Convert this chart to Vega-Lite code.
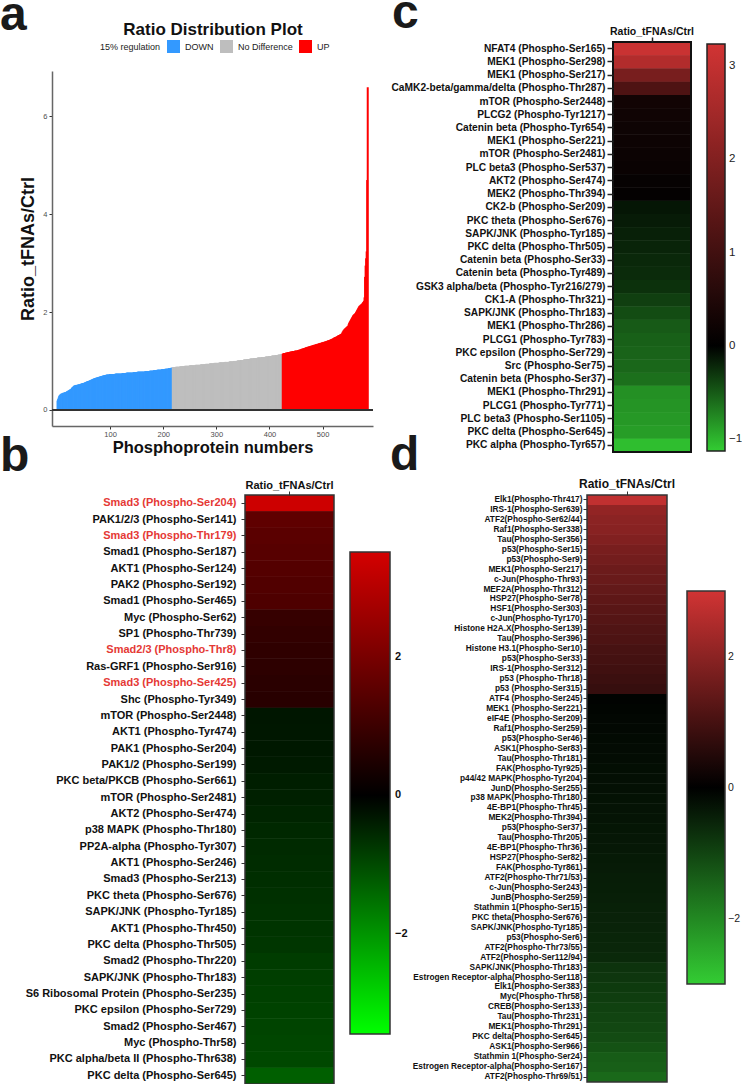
{
"$schema": "https://vega.github.io/schema/vega-lite/v6.json",
"padding": {"left": 0, "top": -10, "right": 0, "bottom": 0},
"background": "white",
"config": {"font": "Liberation Sans", "view": {"stroke": null}, "axis": {"grid": false}},
"resolve": {"scale": {"x": "independent", "y": "independent", "color": "independent"}, "legend": {"color": "independent"}},
"columns": 2,
"spacing": {"row": -24, "column": -18},
"datasets": {
"dist": [
{"g": "DOWN", "r": [0.19,0.22,0.25,0.28,0.30,0.31,0.32,0.33,0.33,0.34,0.34,0.35,0.35,0.35,0.36,0.36,0.36,0.37,0.38,0.38,0.39,0.40,0.40,0.41,0.42,0.42,0.43,0.45,0.46,0.47,0.48,0.49,0.50,0.50,0.50,0.51,0.51,0.51,0.51,0.52,0.52,0.52,0.52,0.53,0.53,0.54,0.54,0.54,0.55,0.55,0.55,0.56,0.56,0.57,0.57,0.58,0.58,0.59,0.59,0.59,0.60,0.60,0.61,0.61,0.62,0.62,0.63,0.63,0.64,0.64,0.65,0.65,0.65,0.66,0.66,0.66,0.67,0.67,0.67,0.68,0.68,0.68,0.69,0.69,0.69,0.70,0.70,0.70,0.71,0.71,0.71,0.71,0.72,0.72,0.72,0.72,0.72,0.72,0.73,0.73,0.73,0.73,0.73,0.73,0.73,0.73,0.73,0.73,0.73,0.74,0.74,0.74,0.74,0.74,0.74,0.74,0.74,0.74,0.74,0.74,0.74,0.74,0.75,0.75,0.75,0.75,0.75,0.75,0.75,0.75,0.76,0.76,0.76,0.76,0.76,0.76,0.76,0.76,0.76,0.76,0.76,0.76,0.76,0.77,0.77,0.77,0.77,0.77,0.77,0.77,0.77,0.78,0.78,0.78,0.78,0.78,0.78,0.78,0.78,0.78,0.78,0.78,0.78,0.78,0.78,0.79,0.79,0.79,0.79,0.79,0.79,0.79,0.79,0.79,0.80,0.80,0.80,0.80,0.80,0.80,0.80,0.81,0.81,0.81,0.81,0.81,0.81,0.81,0.82,0.82,0.82,0.82,0.82,0.82,0.82,0.82,0.83,0.83,0.83,0.83,0.83,0.83,0.83,0.84,0.84,0.84,0.84,0.84,0.84,0.85,0.85,0.85,0.85,0.85,0.86,0.86,0.86]},
{"g": "No Difference", "r": [0.87,0.87,0.87,0.87,0.87,0.87,0.88,0.88,0.88,0.88,0.88,0.88,0.88,0.88,0.89,0.89,0.89,0.89,0.89,0.89,0.89,0.89,0.89,0.90,0.90,0.90,0.90,0.90,0.90,0.90,0.90,0.90,0.91,0.91,0.91,0.91,0.91,0.91,0.91,0.91,0.91,0.91,0.91,0.92,0.92,0.92,0.92,0.92,0.92,0.92,0.92,0.92,0.92,0.93,0.93,0.93,0.93,0.93,0.93,0.93,0.93,0.93,0.94,0.94,0.94,0.94,0.94,0.94,0.94,0.94,0.95,0.95,0.95,0.95,0.95,0.95,0.95,0.95,0.96,0.96,0.96,0.96,0.96,0.96,0.96,0.96,0.96,0.96,0.97,0.97,0.97,0.97,0.97,0.97,0.97,0.97,0.97,0.97,0.98,0.98,0.98,0.98,0.98,0.98,0.98,0.98,0.98,0.99,0.99,0.99,0.99,0.99,0.99,0.99,0.99,1.00,1.00,1.00,1.00,1.00,1.00,1.00,1.01,1.01,1.01,1.01,1.01,1.01,1.02,1.02,1.02,1.02,1.02,1.02,1.03,1.03,1.03,1.03,1.03,1.03,1.04,1.04,1.04,1.04,1.04,1.04,1.05,1.05,1.05,1.05,1.05,1.05,1.05,1.06,1.06,1.06,1.06,1.06,1.06,1.06,1.07,1.07,1.07,1.07,1.07,1.07,1.07,1.07,1.08,1.08,1.08,1.08,1.08,1.08,1.08,1.09,1.09,1.09,1.09,1.09,1.09,1.10,1.10,1.10,1.10,1.10,1.10,1.11,1.11,1.11,1.11,1.11,1.11,1.12,1.12,1.12,1.12,1.12,1.12,1.13,1.13,1.13,1.13,1.13,1.14,1.14,1.14]},
{"g": "UP", "r": [1.15,1.15,1.16,1.16,1.16,1.16,1.17,1.17,1.17,1.17,1.18,1.18,1.18,1.18,1.19,1.19,1.19,1.19,1.20,1.20,1.20,1.20,1.20,1.21,1.21,1.21,1.21,1.21,1.22,1.22,1.22,1.23,1.23,1.23,1.24,1.24,1.25,1.25,1.25,1.26,1.26,1.26,1.27,1.27,1.28,1.28,1.28,1.29,1.29,1.29,1.30,1.30,1.30,1.31,1.31,1.31,1.32,1.32,1.32,1.33,1.33,1.33,1.34,1.34,1.34,1.35,1.35,1.35,1.36,1.36,1.36,1.37,1.37,1.37,1.38,1.38,1.38,1.39,1.39,1.39,1.40,1.40,1.40,1.41,1.41,1.42,1.42,1.42,1.43,1.43,1.44,1.44,1.45,1.45,1.46,1.46,1.47,1.48,1.48,1.49,1.49,1.50,1.50,1.51,1.52,1.52,1.53,1.53,1.54,1.55,1.55,1.56,1.58,1.60,1.62,1.63,1.65,1.66,1.67,1.68,1.69,1.70,1.71,1.72,1.75,1.78,1.80,1.82,1.84,1.86,1.88,1.90,1.92,1.94,1.95,1.96,1.97,1.98,2.00,2.02,2.04,2.06,2.08,2.10,2.12,2.13,2.14,2.15,2.16,2.17,2.18,2.20,2.21,2.23,2.30,2.72,2.95,3.10,3.24,4.70,6.60]}
],
"b": [
{"s":"Ratio_tFNAs/Ctrl","p":"Smad3 (Phospho-Ser204)","v":3.4},
{"s":"Ratio_tFNAs/Ctrl","p":"PAK1/2/3 (Phospho-Ser141)","v":1.57},
{"s":"Ratio_tFNAs/Ctrl","p":"Smad3 (Phospho-Thr179)","v":1.5},
{"s":"Ratio_tFNAs/Ctrl","p":"Smad1 (Phospho-Ser187)","v":1.45},
{"s":"Ratio_tFNAs/Ctrl","p":"AKT1 (Phospho-Ser124)","v":1.4},
{"s":"Ratio_tFNAs/Ctrl","p":"PAK2 (Phospho-Ser192)","v":1.35},
{"s":"Ratio_tFNAs/Ctrl","p":"Smad1 (Phospho-Ser465)","v":1.29},
{"s":"Ratio_tFNAs/Ctrl","p":"Myc (Phospho-Ser62)","v":0.9},
{"s":"Ratio_tFNAs/Ctrl","p":"SP1 (Phospho-Thr739)","v":0.83},
{"s":"Ratio_tFNAs/Ctrl","p":"Smad2/3 (Phospho-Thr8)","v":0.78},
{"s":"Ratio_tFNAs/Ctrl","p":"Ras-GRF1 (Phospho-Ser916)","v":0.74},
{"s":"Ratio_tFNAs/Ctrl","p":"Smad3 (Phospho-Ser425)","v":0.69},
{"s":"Ratio_tFNAs/Ctrl","p":"Shc (Phospho-Tyr349)","v":0.66},
{"s":"Ratio_tFNAs/Ctrl","p":"mTOR (Phospho-Ser2448)","v":-0.3},
{"s":"Ratio_tFNAs/Ctrl","p":"AKT1 (Phospho-Tyr474)","v":-0.31},
{"s":"Ratio_tFNAs/Ctrl","p":"PAK1 (Phospho-Ser204)","v":-0.32},
{"s":"Ratio_tFNAs/Ctrl","p":"PAK1/2 (Phospho-Ser199)","v":-0.35},
{"s":"Ratio_tFNAs/Ctrl","p":"PKC beta/PKCB (Phospho-Ser661)","v":-0.4},
{"s":"Ratio_tFNAs/Ctrl","p":"mTOR (Phospho-Ser2481)","v":-0.43},
{"s":"Ratio_tFNAs/Ctrl","p":"AKT2 (Phospho-Ser474)","v":-0.49},
{"s":"Ratio_tFNAs/Ctrl","p":"p38 MAPK (Phospho-Thr180)","v":-0.54},
{"s":"Ratio_tFNAs/Ctrl","p":"PP2A-alpha (Phospho-Tyr307)","v":-0.57},
{"s":"Ratio_tFNAs/Ctrl","p":"AKT1 (Phospho-Ser246)","v":-0.6},
{"s":"Ratio_tFNAs/Ctrl","p":"Smad3 (Phospho-Ser213)","v":-0.62},
{"s":"Ratio_tFNAs/Ctrl","p":"PKC theta (Phospho-Ser676)","v":-0.65},
{"s":"Ratio_tFNAs/Ctrl","p":"SAPK/JNK (Phospho-Tyr185)","v":-0.68},
{"s":"Ratio_tFNAs/Ctrl","p":"AKT1 (Phospho-Thr450)","v":-0.7},
{"s":"Ratio_tFNAs/Ctrl","p":"PKC delta (Phospho-Thr505)","v":-0.73},
{"s":"Ratio_tFNAs/Ctrl","p":"Smad2 (Phospho-Thr220)","v":-0.81},
{"s":"Ratio_tFNAs/Ctrl","p":"SAPK/JNK (Phospho-Thr183)","v":-0.84},
{"s":"Ratio_tFNAs/Ctrl","p":"S6 Ribosomal Protein (Phospho-Ser235)","v":-0.87},
{"s":"Ratio_tFNAs/Ctrl","p":"PKC epsilon (Phospho-Ser729)","v":-0.89},
{"s":"Ratio_tFNAs/Ctrl","p":"Smad2 (Phospho-Ser467)","v":-0.92},
{"s":"Ratio_tFNAs/Ctrl","p":"Myc (Phospho-Thr58)","v":-0.95},
{"s":"Ratio_tFNAs/Ctrl","p":"PKC alpha/beta II (Phospho-Thr638)","v":-0.97},
{"s":"Ratio_tFNAs/Ctrl","p":"PKC delta (Phospho-Ser645)","v":-1.29}
],
"c": [
{"s":"Ratio_tFNAs/Ctrl","p":"NFAT4 (Phospho-Ser165)","v":3.1},
{"s":"Ratio_tFNAs/Ctrl","p":"MEK1 (Phospho-Ser298)","v":2.75},
{"s":"Ratio_tFNAs/Ctrl","p":"MEK1 (Phospho-Ser217)","v":1.85},
{"s":"Ratio_tFNAs/Ctrl","p":"CaMK2-beta/gamma/delta (Phospho-Thr287)","v":1.2},
{"s":"Ratio_tFNAs/Ctrl","p":"mTOR (Phospho-Ser2448)","v":0.28},
{"s":"Ratio_tFNAs/Ctrl","p":"PLCG2 (Phospho-Tyr1217)","v":0.25},
{"s":"Ratio_tFNAs/Ctrl","p":"Catenin beta (Phospho-Tyr654)","v":0.22},
{"s":"Ratio_tFNAs/Ctrl","p":"MEK1 (Phospho-Ser221)","v":0.2},
{"s":"Ratio_tFNAs/Ctrl","p":"mTOR (Phospho-Ser2481)","v":0.18},
{"s":"Ratio_tFNAs/Ctrl","p":"PLC beta3 (Phospho-Ser537)","v":0.15},
{"s":"Ratio_tFNAs/Ctrl","p":"AKT2 (Phospho-Ser474)","v":0.1},
{"s":"Ratio_tFNAs/Ctrl","p":"MEK2 (Phospho-Thr394)","v":0.06},
{"s":"Ratio_tFNAs/Ctrl","p":"CK2-b (Phospho-Ser209)","v":-0.12},
{"s":"Ratio_tFNAs/Ctrl","p":"PKC theta (Phospho-Ser676)","v":-0.15},
{"s":"Ratio_tFNAs/Ctrl","p":"SAPK/JNK (Phospho-Tyr185)","v":-0.18},
{"s":"Ratio_tFNAs/Ctrl","p":"PKC delta (Phospho-Thr505)","v":-0.2},
{"s":"Ratio_tFNAs/Ctrl","p":"Catenin beta (Phospho-Ser33)","v":-0.22},
{"s":"Ratio_tFNAs/Ctrl","p":"Catenin beta (Phospho-Tyr489)","v":-0.24},
{"s":"Ratio_tFNAs/Ctrl","p":"GSK3 alpha/beta (Phospho-Tyr216/279)","v":-0.27},
{"s":"Ratio_tFNAs/Ctrl","p":"CK1-A (Phospho-Thr321)","v":-0.35},
{"s":"Ratio_tFNAs/Ctrl","p":"SAPK/JNK (Phospho-Thr183)","v":-0.42},
{"s":"Ratio_tFNAs/Ctrl","p":"MEK1 (Phospho-Thr286)","v":-0.5},
{"s":"Ratio_tFNAs/Ctrl","p":"PLCG1 (Phospho-Tyr783)","v":-0.53},
{"s":"Ratio_tFNAs/Ctrl","p":"PKC epsilon (Phospho-Ser729)","v":-0.55},
{"s":"Ratio_tFNAs/Ctrl","p":"Src (Phospho-Ser75)","v":-0.57},
{"s":"Ratio_tFNAs/Ctrl","p":"Catenin beta (Phospho-Ser37)","v":-0.62},
{"s":"Ratio_tFNAs/Ctrl","p":"MEK1 (Phospho-Thr291)","v":-0.8},
{"s":"Ratio_tFNAs/Ctrl","p":"PLCG1 (Phospho-Tyr771)","v":-0.82},
{"s":"Ratio_tFNAs/Ctrl","p":"PLC beta3 (Phospho-Ser1105)","v":-0.84},
{"s":"Ratio_tFNAs/Ctrl","p":"PKC delta (Phospho-Ser645)","v":-0.87},
{"s":"Ratio_tFNAs/Ctrl","p":"PKC alpha (Phospho-Tyr657)","v":-1.05}
],
"d": [
{"s":"Ratio_tFNAs/Ctrl","p":"Elk1(Phospho-Thr417)","v":2.75},
{"s":"Ratio_tFNAs/Ctrl","p":"IRS-1(Phospho-Ser639)","v":2.1},
{"s":"Ratio_tFNAs/Ctrl","p":"ATF2(Phospho-Ser62/44)","v":2.0},
{"s":"Ratio_tFNAs/Ctrl","p":"Raf1(Phospho-Ser338)","v":1.95},
{"s":"Ratio_tFNAs/Ctrl","p":"Tau(Phospho-Ser356)","v":1.85},
{"s":"Ratio_tFNAs/Ctrl","p":"p53(Phospho-Ser15)","v":1.72},
{"s":"Ratio_tFNAs/Ctrl","p":"p53(Phospho-Ser9)","v":1.65},
{"s":"Ratio_tFNAs/Ctrl","p":"MEK1(Phospho-Ser217)","v":1.55},
{"s":"Ratio_tFNAs/Ctrl","p":"c-Jun(Phospho-Thr93)","v":1.5},
{"s":"Ratio_tFNAs/Ctrl","p":"MEF2A(Phospho-Thr312)","v":1.42},
{"s":"Ratio_tFNAs/Ctrl","p":"HSP27(Phospho-Ser78)","v":1.35},
{"s":"Ratio_tFNAs/Ctrl","p":"HSF1(Phospho-Ser303)","v":1.28},
{"s":"Ratio_tFNAs/Ctrl","p":"c-Jun(Phospho-Tyr170)","v":1.22},
{"s":"Ratio_tFNAs/Ctrl","p":"Histone H2A.X(Phospho-Ser139)","v":1.15},
{"s":"Ratio_tFNAs/Ctrl","p":"Tau(Phospho-Ser396)","v":1.1},
{"s":"Ratio_tFNAs/Ctrl","p":"Histone H3.1(Phospho-Ser10)","v":1.02},
{"s":"Ratio_tFNAs/Ctrl","p":"p53(Phospho-Ser33)","v":0.97},
{"s":"Ratio_tFNAs/Ctrl","p":"IRS-1(Phospho-Ser312)","v":0.92},
{"s":"Ratio_tFNAs/Ctrl","p":"p53 (Phospho-Thr18)","v":0.85},
{"s":"Ratio_tFNAs/Ctrl","p":"p53 (Phospho-Ser315)","v":0.78},
{"s":"Ratio_tFNAs/Ctrl","p":"ATF4 (Phospho-Ser245)","v":-0.05},
{"s":"Ratio_tFNAs/Ctrl","p":"MEK1 (Phospho-Ser221)","v":-0.08},
{"s":"Ratio_tFNAs/Ctrl","p":"eIF4E (Phospho-Ser209)","v":-0.1},
{"s":"Ratio_tFNAs/Ctrl","p":"Raf1(Phospho-Ser259)","v":-0.12},
{"s":"Ratio_tFNAs/Ctrl","p":"p53(Phospho-Ser46)","v":-0.14},
{"s":"Ratio_tFNAs/Ctrl","p":"ASK1(Phospho-Ser83)","v":-0.16},
{"s":"Ratio_tFNAs/Ctrl","p":"Tau(Phospho-Thr181)","v":-0.18},
{"s":"Ratio_tFNAs/Ctrl","p":"FAK(Phospho-Tyr925)","v":-0.2},
{"s":"Ratio_tFNAs/Ctrl","p":"p44/42 MAPK(Phospho-Tyr204)","v":-0.22},
{"s":"Ratio_tFNAs/Ctrl","p":"JunD(Phospho-Ser255)","v":-0.24},
{"s":"Ratio_tFNAs/Ctrl","p":"p38 MAPK(Phospho-Thr180)","v":-0.26},
{"s":"Ratio_tFNAs/Ctrl","p":"4E-BP1(Phospho-Thr45)","v":-0.28},
{"s":"Ratio_tFNAs/Ctrl","p":"MEK2(Phospho-Thr394)","v":-0.3},
{"s":"Ratio_tFNAs/Ctrl","p":"p53(Phospho-Ser37)","v":-0.32},
{"s":"Ratio_tFNAs/Ctrl","p":"Tau(Phospho-Thr205)","v":-0.34},
{"s":"Ratio_tFNAs/Ctrl","p":"4E-BP1(Phospho-Thr36)","v":-0.36},
{"s":"Ratio_tFNAs/Ctrl","p":"HSP27(Phospho-Ser82)","v":-0.38},
{"s":"Ratio_tFNAs/Ctrl","p":"FAK(Phospho-Tyr861)","v":-0.4},
{"s":"Ratio_tFNAs/Ctrl","p":"ATF2(Phospho-Thr71/53)","v":-0.42},
{"s":"Ratio_tFNAs/Ctrl","p":"c-Jun(Phospho-Ser243)","v":-0.44},
{"s":"Ratio_tFNAs/Ctrl","p":"JunB(Phospho-Ser259)","v":-0.46},
{"s":"Ratio_tFNAs/Ctrl","p":"Stathmin 1(Phospho-Ser15)","v":-0.48},
{"s":"Ratio_tFNAs/Ctrl","p":"PKC theta(Phospho-Ser676)","v":-0.5},
{"s":"Ratio_tFNAs/Ctrl","p":"SAPK/JNK(Phospho-Tyr185)","v":-0.52},
{"s":"Ratio_tFNAs/Ctrl","p":"p53(Phospho-Ser6)","v":-0.54},
{"s":"Ratio_tFNAs/Ctrl","p":"ATF2(Phospho-Thr73/55)","v":-0.56},
{"s":"Ratio_tFNAs/Ctrl","p":"ATF2(Phospho-Ser112/94)","v":-0.6},
{"s":"Ratio_tFNAs/Ctrl","p":"SAPK/JNK(Phospho-Thr183)","v":-0.75},
{"s":"Ratio_tFNAs/Ctrl","p":"Estrogen Receptor-alpha(Phospho-Ser118)","v":-0.8},
{"s":"Ratio_tFNAs/Ctrl","p":"Elk1(Phospho-Ser383)","v":-0.85},
{"s":"Ratio_tFNAs/Ctrl","p":"Myc(Phospho-Thr58)","v":-0.9},
{"s":"Ratio_tFNAs/Ctrl","p":"CREB(Phospho-Ser133)","v":-0.95},
{"s":"Ratio_tFNAs/Ctrl","p":"Tau(Phospho-Thr231)","v":-1.0},
{"s":"Ratio_tFNAs/Ctrl","p":"MEK1(Phospho-Thr291)","v":-1.05},
{"s":"Ratio_tFNAs/Ctrl","p":"PKC delta(Phospho-Ser645)","v":-1.1},
{"s":"Ratio_tFNAs/Ctrl","p":"ASK1(Phospho-Ser966)","v":-1.2},
{"s":"Ratio_tFNAs/Ctrl","p":"Stathmin 1(Phospho-Ser24)","v":-1.35},
{"s":"Ratio_tFNAs/Ctrl","p":"Estrogen Receptor-alpha(Phospho-Ser167)","v":-1.4},
{"s":"Ratio_tFNAs/Ctrl","p":"ATF2(Phospho-Thr69/51)","v":-1.55}
]
},
"concat": [
{
 "width": 321, "height": 384,
 "title": {"text": "a", "anchor": "start", "frame": "group", "dx": -52, "dy": 58, "offset": 0, "baseline": "alphabetic", "fontSize": 48, "fontWeight": "bold", "color": "#1a1a1a"},
 "data": {"name": "dist"},
 "transform": [{"flatten": ["r"]}, {"window": [{"op": "row_number", "as": "i"}], "sort": [{"field": "r", "order": "ascending"}]}],
 "layer": [
  {"mark": {"type": "bar", "width": 2},
   "encoding": {
    "x": {"field": "i", "type": "quantitative", "scale": {"domain": [0, 585.5], "nice": false, "zero": false},
      "axis": {"orient": "bottom", "values": [100, 200, 300, 400, 500], "title": "Phosphoprotein numbers", "titleFontSize": 16.5, "titleFontWeight": "bold", "titleColor": "#111", "titlePadding": 2, "labelFontSize": 7.5, "labelColor": "#4d4d4d", "labelPadding": 1, "tickSize": 3, "tickColor": "#333", "domainColor": "#666", "domainWidth": 1.5}},
    "y": {"field": "r", "type": "quantitative", "scale": {"domain": [-0.33, 6.93], "nice": false, "zero": false, "range": [384, 29]},
      "axis": {"orient": "left", "values": [0, 2, 4, 6], "title": "Ratio_tFNAs/Ctrl", "titleFontSize": 18, "titleFontWeight": "bold", "titleColor": "#111", "titlePadding": 5, "labelFontSize": 7.5, "labelColor": "#4d4d4d", "labelPadding": 2, "tickSize": 3, "tickColor": "#333", "domainColor": "#666", "domainWidth": 1.5}},
    "y2": {"datum": 0},
    "color": {"field": "g", "type": "nominal", "scale": {"domain": ["DOWN", "No Difference", "UP"], "range": ["#3399FF", "#BEBEBE", "#FF0000"]},
      "legend": {"orient": "none", "legendX": 48, "legendY": -2, "direction": "horizontal", "title": "15% regulation", "titleOrient": "left", "titleFontSize": 9, "titleFontWeight": "normal", "titleColor": "#222", "titlePadding": 6, "labelFontSize": 9, "labelColor": "#222", "labelOffset": 5, "columnPadding": 6, "symbolType": "square", "symbolSize": 169, "symbolStrokeWidth": 0, "symbolOpacity": 1}}
   }},
  {"mark": {"type": "bar", "width": 1, "opacity": 0},
   "encoding": {
    "x": {"field": "i", "type": "quantitative", "axis": {"orient": "top", "title": "Ratio Distribution Plot", "titleFontSize": 17, "titleFontWeight": "bold", "titleColor": "#111", "labels": false, "ticks": false, "domain": false, "minExtent": 0, "maxExtent": 0, "titleY": -8, "titleBaseline": "alphabetic"}},
    "y": {"field": "r", "type": "quantitative",
      "axis": {"orient": "left", "values": [0, 2, 4, 6], "title": "Ratio_tFNAs/Ctrl", "titleFontSize": 18, "titleFontWeight": "bold", "titleColor": "#111", "titlePadding": 5, "labelFontSize": 7.5, "labelColor": "#4d4d4d", "labelPadding": 2, "tickSize": 3, "tickColor": "#333", "domainColor": "#666", "domainWidth": 1.5}}
   }},
  {"mark": {"type": "rule", "color": "#333", "strokeWidth": 1},
   "encoding": {"y": {"datum": 0, "type": "quantitative",
      "axis": {"orient": "left", "values": [0, 2, 4, 6], "title": "Ratio_tFNAs/Ctrl", "titleFontSize": 18, "titleFontWeight": "bold", "titleColor": "#111", "titlePadding": 5, "labelFontSize": 7.5, "labelColor": "#4d4d4d", "labelPadding": 2, "tickSize": 3, "tickColor": "#333", "domainColor": "#666", "domainWidth": 1.5}}}}
 ]
},
{
 "width": 104, "height": 410,
 "title": {"text": "c", "anchor": "start", "frame": "group", "dx": -195, "dy": 50, "offset": 0, "baseline": "alphabetic", "fontSize": 48, "fontWeight": "bold", "color": "#1a1a1a"},
 "data": {"name": "c"},
 "layer": [
  {"mark": {"type": "rect"},
   "encoding": {
    "x": {"field": "s", "type": "nominal", "scale": {"range": [26, 104], "paddingInner": 0, "paddingOuter": 0}, "axis": {"orient": "top", "title": null, "labelAngle": 0, "labelFontSize": 10.5, "labelFontWeight": "bold", "labelColor": "#111", "labelPadding": 1, "tickSize": 5, "tickColor": "#222", "tickWidth": 1.5, "domain": false}},
    "y": {"field": "p", "type": "nominal", "sort": null, "axis": {"title": null, "offset": -26, "labelFontSize": 10.2, "labelFontWeight": "bold", "labelColor": "#111", "labelLimit": 0, "labelPadding": 2, "tickSize": 6, "tickColor": "#222", "tickWidth": 1.5, "domain": false}},
    "color": {"field": "v", "type": "quantitative", "scale": {"domain": [-1.13, 0, 3.24], "range": ["#33cc33", "#000000", "#d23434"], "interpolate": "rgb"},
      "legend": {"type": "gradient", "orient": "none", "legendX": 120, "legendY": 2, "title": null, "direction": "vertical", "gradientLength": 407, "gradientThickness": 18, "gradientStrokeColor": "#222", "gradientStrokeWidth": 1.5, "values": [-1, 0, 1, 2, 3], "format": "d", "labelFontSize": 11.5, "labelColor": "#222", "labelOffset": 4, "labelOverlap": false}}
   }},
  {"mark": {"type": "rect"},
   "encoding": {
    "x": {"field": "s", "type": "nominal", "axis": {"orient": "top", "title": null, "labelAngle": 0, "labelFontSize": 10.5, "labelFontWeight": "bold", "labelColor": "#111", "labelPadding": 1, "tickSize": 5, "tickColor": "#222", "tickWidth": 1.5, "domain": false}},
    "y": {"field": "p", "type": "nominal", "sort": null, "axis": {"title": null, "offset": -26, "labelFontSize": 10.2, "labelFontWeight": "bold", "labelColor": "#111", "labelLimit": 0, "labelPadding": 2, "tickSize": 6, "tickColor": "#222", "tickWidth": 1.5, "domain": false}},
    "color": {"field": "v", "type": "quantitative",
      "legend": {"type": "gradient", "orient": "none", "legendX": 120, "legendY": 2, "title": null, "direction": "vertical", "gradientLength": 407, "gradientThickness": 18, "gradientStrokeColor": "#222", "gradientStrokeWidth": 1.5, "values": [-1, 0, 1, 2, 3], "format": "d", "labelFontSize": 11.5, "labelColor": "#222", "labelOffset": 4, "labelOverlap": false}}
   }},
  {"data": {"values": [{"s": "Ratio_tFNAs/Ctrl"}]},
   "mark": {"type": "rect", "filled": false, "stroke": "#111", "strokeWidth": 2},
   "encoding": {
    "x": {"field": "s", "type": "nominal", "axis": {"orient": "top", "title": null, "labelAngle": 0, "labelFontSize": 10.5, "labelFontWeight": "bold", "labelColor": "#111", "labelPadding": 1, "tickSize": 5, "tickColor": "#222", "tickWidth": 1.5, "domain": false}}
   }}
 ]
},
{
 "width": 282, "height": 589,
 "title": {"text": "b", "anchor": "start", "frame": "group", "dx": -52, "dy": 40, "offset": 0, "baseline": "alphabetic", "fontSize": 48, "fontWeight": "bold", "color": "#1a1a1a"},
 "data": {"name": "b"},
 "layer": [
  {"mark": {"type": "rect"},
   "encoding": {
    "x": {"field": "s", "type": "nominal", "scale": {"range": [193, 282], "paddingInner": 0, "paddingOuter": 0}, "axis": {"orient": "top", "title": null, "labelAngle": 0, "labelFontSize": 11, "labelFontWeight": "bold", "labelColor": "#111", "labelPadding": 1, "tickSize": 4, "tickColor": "#333", "tickWidth": 1, "domain": false}},
    "y": {"field": "p", "type": "nominal", "sort": null, "axis": {"title": null, "offset": -193, "labelFontSize": 11, "labelFontWeight": "bold", "labelLimit": 0, "labelPadding": 5, "tickSize": 4, "tickColor": "#333", "tickWidth": 1, "domain": false,
      "labelColor": {"condition": {"test": "indexof(['Smad3 (Phospho-Ser204)','Smad3 (Phospho-Thr179)','Smad2/3 (Phospho-Thr8)','Smad3 (Phospho-Ser425)'], datum.value) >= 0", "value": "#e53935"}, "value": "#111111"}}},
    "color": {"field": "v", "type": "quantitative", "scale": {"domain": [-3.45, 0, 3.52], "range": ["#00ff00", "#000000", "#d40000"], "interpolate": "rgb"},
      "legend": {"type": "gradient", "orient": "none", "legendX": 298, "legendY": 57, "title": null, "direction": "vertical", "gradientLength": 482, "gradientThickness": 40, "gradientStrokeColor": "#333", "gradientStrokeWidth": 1.5, "values": [-2, 0, 2], "format": "d", "labelFontSize": 11, "labelFontWeight": "bold", "labelColor": "#111", "labelOffset": 5, "labelOverlap": false}}
   }},
  {"mark": {"type": "rect"},
   "encoding": {
    "x": {"field": "s", "type": "nominal", "axis": {"orient": "top", "title": null, "labelAngle": 0, "labelFontSize": 11, "labelFontWeight": "bold", "labelColor": "#111", "labelPadding": 1, "tickSize": 4, "tickColor": "#333", "tickWidth": 1, "domain": false}},
    "y": {"field": "p", "type": "nominal", "sort": null, "axis": {"title": null, "offset": -193, "labelFontSize": 11, "labelFontWeight": "bold", "labelLimit": 0, "labelPadding": 5, "tickSize": 4, "tickColor": "#333", "tickWidth": 1, "domain": false,
      "labelColor": {"condition": {"test": "indexof(['Smad3 (Phospho-Ser204)','Smad3 (Phospho-Thr179)','Smad2/3 (Phospho-Thr8)','Smad3 (Phospho-Ser425)'], datum.value) >= 0", "value": "#e53935"}, "value": "#111111"}}},
    "color": {"field": "v", "type": "quantitative",
      "legend": {"type": "gradient", "orient": "none", "legendX": 298, "legendY": 57, "title": null, "direction": "vertical", "gradientLength": 482, "gradientThickness": 40, "gradientStrokeColor": "#333", "gradientStrokeWidth": 1.5, "values": [-2, 0, 2], "format": "d", "labelFontSize": 11, "labelFontWeight": "bold", "labelColor": "#111", "labelOffset": 5, "labelOverlap": false}}
   }},
  {"data": {"values": [{"s": "Ratio_tFNAs/Ctrl"}]},
   "mark": {"type": "rect", "filled": false, "stroke": "#333", "strokeWidth": 1.5},
   "encoding": {
    "x": {"field": "s", "type": "nominal", "axis": {"orient": "top", "title": null, "labelAngle": 0, "labelFontSize": 11, "labelFontWeight": "bold", "labelColor": "#111", "labelPadding": 1, "tickSize": 4, "tickColor": "#333", "tickWidth": 1, "domain": false}}
   }}
 ]
},
{
 "width": 80, "height": 587,
 "title": {"text": "d", "anchor": "start", "frame": "group", "dx": -197, "dy": 41, "offset": 0, "baseline": "alphabetic", "fontSize": 48, "fontWeight": "bold", "color": "#1a1a1a"},
 "data": {"name": "d"},
 "layer": [
  {"mark": {"type": "rect"},
   "encoding": {
    "x": {"field": "s", "type": "nominal", "axis": {"orient": "top", "title": null, "labelAngle": 0, "labelFontSize": 12, "labelFontWeight": "bold", "labelColor": "#111", "labelPadding": 1, "tickSize": 4, "tickColor": "#333", "tickWidth": 1, "domain": false}},
    "y": {"field": "p", "type": "nominal", "sort": null, "axis": {"title": null, "labelFontSize": 8.3, "labelFontWeight": "bold", "labelColor": "#111", "labelLimit": 0, "labelPadding": 1, "tickSize": 4, "tickColor": "#333", "tickWidth": 1, "domain": false}},
    "color": {"field": "v", "type": "quantitative", "scale": {"domain": [-3, 0, 3], "range": ["#33cc33", "#000000", "#d13434"], "interpolate": "rgb"},
      "legend": {"type": "gradient", "orient": "none", "legendX": 100, "legendY": 96, "title": null, "direction": "vertical", "gradientLength": 393, "gradientThickness": 38, "gradientStrokeColor": "#333", "gradientStrokeWidth": 1.5, "values": [-2, 0, 2], "format": "d", "labelFontSize": 10.5, "labelColor": "#222", "labelOffset": 3, "labelOverlap": false}}
   }},
  {"mark": {"type": "rect"},
   "encoding": {
    "x": {"field": "s", "type": "nominal", "axis": {"orient": "top", "title": null, "labelAngle": 0, "labelFontSize": 12, "labelFontWeight": "bold", "labelColor": "#111", "labelPadding": 1, "tickSize": 4, "tickColor": "#333", "tickWidth": 1, "domain": false}},
    "y": {"field": "p", "type": "nominal", "sort": null, "axis": {"title": null, "labelFontSize": 8.3, "labelFontWeight": "bold", "labelColor": "#111", "labelLimit": 0, "labelPadding": 1, "tickSize": 4, "tickColor": "#333", "tickWidth": 1, "domain": false}},
    "color": {"field": "v", "type": "quantitative",
      "legend": {"type": "gradient", "orient": "none", "legendX": 100, "legendY": 96, "title": null, "direction": "vertical", "gradientLength": 393, "gradientThickness": 38, "gradientStrokeColor": "#333", "gradientStrokeWidth": 1.5, "values": [-2, 0, 2], "format": "d", "labelFontSize": 10.5, "labelColor": "#222", "labelOffset": 3, "labelOverlap": false}}
   }},
  {"data": {"values": [{"s": "Ratio_tFNAs/Ctrl"}]},
   "mark": {"type": "rect", "filled": false, "stroke": "#333", "strokeWidth": 1.5},
   "encoding": {
    "x": {"field": "s", "type": "nominal", "axis": {"orient": "top", "title": null, "labelAngle": 0, "labelFontSize": 12, "labelFontWeight": "bold", "labelColor": "#111", "labelPadding": 1, "tickSize": 4, "tickColor": "#333", "tickWidth": 1, "domain": false}}
   }}
 ]
}
]
}
